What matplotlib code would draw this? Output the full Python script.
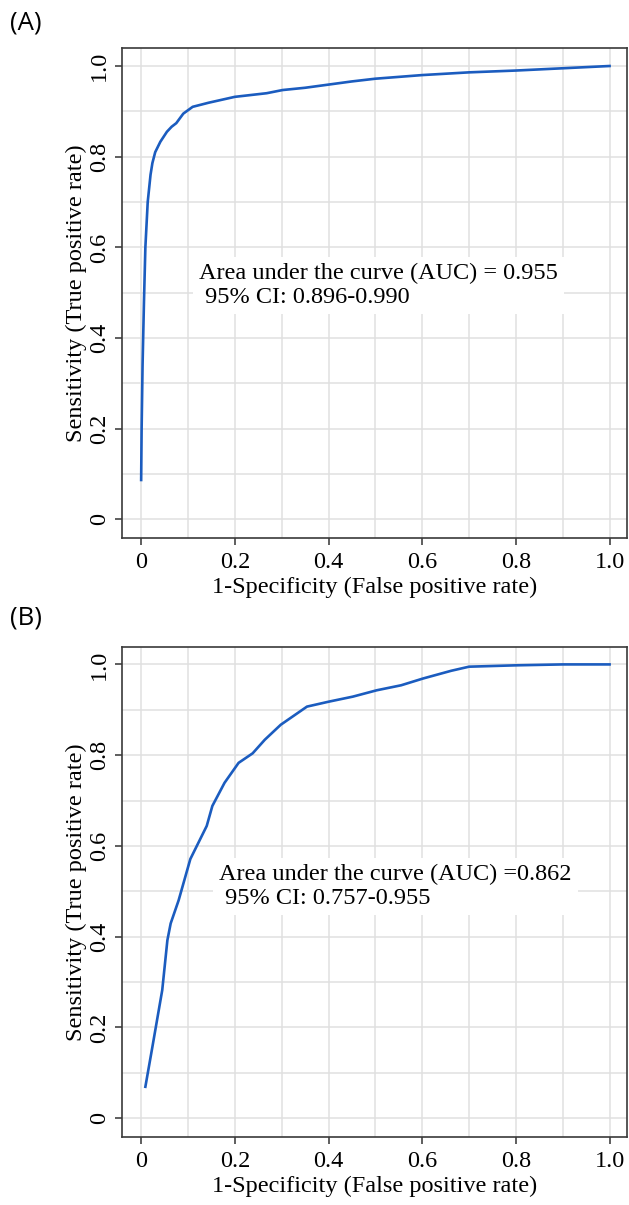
import matplotlib
matplotlib.use('Agg')
import matplotlib.pyplot as plt
from matplotlib.ticker import MultipleLocator

# ROC curve (A)
fpr_a = [0, 0.001, 0.003, 0.006, 0.009, 0.014, 0.02, 0.024, 0.03, 0.041, 0.055,
         0.065, 0.075, 0.09, 0.11, 0.144, 0.2, 0.268, 0.302, 0.35, 0.4, 0.45,
         0.5, 0.6, 0.7, 0.8, 0.9, 1.0]
tpr_a = [0.087, 0.2, 0.34, 0.48, 0.6, 0.7, 0.76, 0.786, 0.81, 0.833, 0.855,
         0.866, 0.874, 0.895, 0.91, 0.919, 0.932, 0.940, 0.947, 0.952, 0.959,
         0.966, 0.972, 0.98, 0.986, 0.99, 0.995, 1.0]

# ROC curve (B)
fpr_b = [0.009, 0.024, 0.045, 0.056, 0.063, 0.08, 0.105, 0.14, 0.152, 0.178,
         0.208, 0.238, 0.264, 0.298, 0.354, 0.401, 0.452, 0.503, 0.555, 0.602,
         0.662, 0.70, 0.8, 0.9, 1.0]
tpr_b = [0.069, 0.157, 0.282, 0.392, 0.429, 0.48, 0.571, 0.644, 0.688, 0.739,
         0.783, 0.804, 0.834, 0.867, 0.907, 0.918, 0.929, 0.943, 0.954, 0.969,
         0.986, 0.995, 0.998, 1.0, 1.0]

ticks = [0, 0.2, 0.4, 0.6, 0.8, 1.0]
tick_labels = ['0', '0.2', '0.4', '0.6', '0.8', '1.0']
notes = ['Area under the curve (AUC) = 0.955\n 95% CI: 0.896-0.990',
         'Area under the curve (AUC) =0.862\n 95% CI: 0.757-0.955']
panel_tags = ['(A)', '(B)']

serif = 'Liberation Serif'
fig = plt.figure(figsize=(6.29, 12.05), dpi=100)

boxes = [[0.1944, 0.5535, 0.8024, 0.4064], [0.1944, 0.0567, 0.8024, 0.4066]]
note_pos = [(0.124, 0.565), (0.167, 0.560)]
tag_y = [0.981, 0.487]
curves = [(fpr_a, tpr_a), (fpr_b, tpr_b)]

for i in range(2):
    ax = fig.add_axes(boxes[i])
    x, y = curves[i]
    ax.plot(x, y, color='#1b5cbf', lw=1.9, zorder=3)
    ax.set_xlim(-0.0403, 1.0372)
    ax.set_ylim(-0.041, 1.039)
    ax.set_xticks(ticks)
    ax.set_xticklabels(tick_labels, family=serif, fontsize=17.5)
    ax.set_yticks(ticks)
    ax.set_yticklabels(tick_labels, family=serif, fontsize=17.5, rotation=90, va='center')
    ax.xaxis.set_minor_locator(MultipleLocator(0.1))
    ax.yaxis.set_minor_locator(MultipleLocator(0.1))
    ax.grid(which='both', color='#e0e0e0', lw=1.1, zorder=0)
    ax.set_axisbelow(True)
    ax.tick_params(which='major', length=5, width=1.1, color='#333333', pad=5)
    ax.tick_params(axis='y', pad=4)
    ax.tick_params(which='minor', length=0)
    for s in ax.spines.values():
        s.set_color('#3a3a3a')
        s.set_linewidth(1.2)
    ax.set_xlabel('1-Specificity (False positive rate)', family=serif, fontsize=17.5, labelpad=3)
    ax.set_ylabel('Sensitivity (True positive rate)', family=serif, fontsize=17.5, labelpad=1)
    ax.text(note_pos[i][0], note_pos[i][1], notes[i], family=serif, fontsize=17.5,
            va='top', ha='left', linespacing=1.15, zorder=4,
            bbox=dict(boxstyle='square,pad=0.25', fc='white', ec='none'))
    fig.text(0.016, tag_y[i], panel_tags[i], family='Open Sans', fontsize=18.5,
             va='center', ha='left')

fig.savefig('out.png', dpi=100)
